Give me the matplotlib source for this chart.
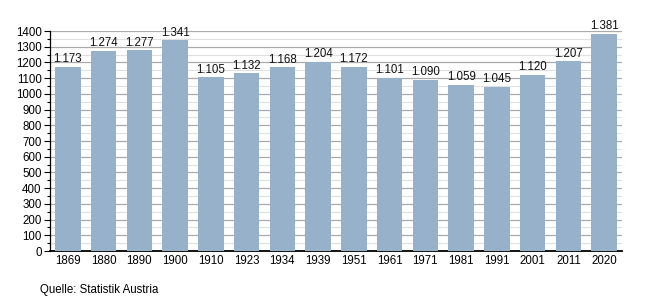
import matplotlib
matplotlib.use("Agg")
import matplotlib.pyplot as plt
from matplotlib.ticker import MultipleLocator

# Data
years = ["1869", "1880", "1890", "1900", "1910", "1923", "1934", "1939",
         "1951", "1961", "1971", "1981", "1991", "2001", "2011", "2020"]
values = [1173, 1274, 1277, 1341, 1105, 1132, 1168, 1204,
          1172, 1101, 1090, 1059, 1045, 1120, 1207, 1381]

BAR_COLOR = "#97b1cb"
FONT = ["Liberation Sans", "DejaVu Sans"]
FS = 8.3

plt.rcParams["font.family"] = FONT

fig = plt.figure(figsize=(6.5, 3.0), dpi=100)
ax = fig.add_axes([50 / 650, 49 / 300, 572 / 650, 220 / 300])

x = range(len(years))
ax.bar(x, values, width=0.72, color=BAR_COLOR, zorder=3)

for xi, v in zip(x, values):
    label = f"{v:,}".replace(",", ".")
    ax.text(xi, v + 10, label, ha="center", va="bottom", fontsize=FS, color="#111")

ax.set_xlim(-0.5, len(years) - 0.5)
ax.set_ylim(0, 1400)
ax.set_xticks(list(x))
ax.set_xticklabels(years, fontsize=FS)
ax.yaxis.set_major_locator(MultipleLocator(100))
ax.yaxis.set_minor_locator(MultipleLocator(50))
ax.tick_params(axis="y", which="major", length=4, width=0.8, labelsize=FS, pad=2)
ax.tick_params(axis="y", which="minor", length=2, width=0.8)
ax.tick_params(axis="x", length=0, pad=3)

ax.grid(axis="y", which="major", color="#aaaaaa", linewidth=0.9, zorder=0)
ax.grid(axis="y", which="minor", color="#e0e0e0", linewidth=0.8, zorder=0)

for side in ("top", "right"):
    ax.spines[side].set_visible(False)
ax.spines["left"].set_linewidth(0.9)
ax.spines["bottom"].set_linewidth(1.3)

fig.text(40 / 650, 1 - 290 / 300, "Quelle: Statistik Austria", ha="left", va="center",
         fontsize=FS)

fig.savefig("out.png", dpi=100, facecolor="white")
